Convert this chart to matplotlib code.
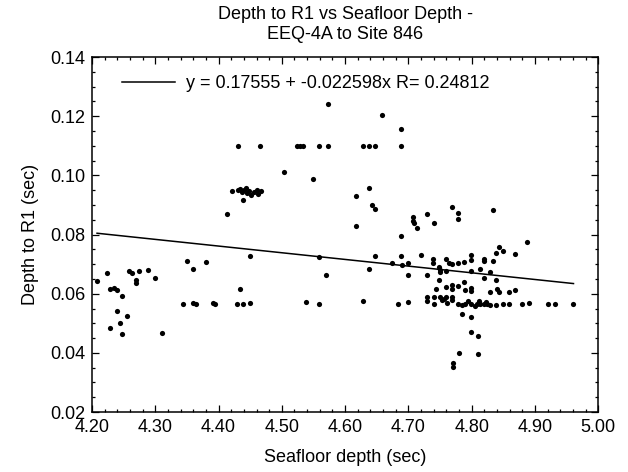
import matplotlib
matplotlib.use("Agg")
import matplotlib.pyplot as plt
import numpy as np
from matplotlib.ticker import MultipleLocator

plt.rcParams['font.family'] = ['Liberation Sans', 'DejaVu Sans']

# seafloor depth (sec) and depth to R1 (sec)
seafloor = [
    4.208, 4.224, 4.259, 4.264, 4.275, 4.289, 4.270, 4.270, 4.300, 4.229,
    4.234, 4.239, 4.248, 4.239, 4.255, 4.244, 4.229, 4.248, 4.310, 4.350,
    4.360, 4.380, 4.344, 4.359, 4.364, 4.391, 4.394, 4.429, 4.439, 4.449,
    4.434, 4.449, 4.413, 4.439, 4.431, 4.466,
    4.421, 4.430, 4.437, 4.441, 4.445, 4.448, 4.452, 4.456, 4.460, 4.463,
    4.467, 4.434, 4.444,
    4.573, 4.658, 4.689, 4.524, 4.529, 4.534, 4.558, 4.573, 4.628, 4.638,
    4.647, 4.689, 4.503, 4.549, 4.638, 4.618,
    4.642, 4.647, 4.618, 4.708, 4.708, 4.709, 4.713, 4.729, 4.740, 4.689,
    4.559, 4.570, 4.648, 4.638, 4.674, 4.689, 4.690, 4.699, 4.699, 4.720,
    4.729, 4.739, 4.739, 4.749, 4.750, 4.749, 4.765, 4.744, 4.729, 4.740,
    4.729, 4.740, 4.753, 4.757, 4.539, 4.559, 4.628, 4.683, 4.699,
    4.769, 4.779, 4.779, 4.833, 4.888, 4.844, 4.849, 4.839, 4.869, 4.760,
    4.769, 4.779, 4.788, 4.799, 4.799, 4.819, 4.819, 4.833, 4.750, 4.760,
    4.799, 4.814, 4.829, 4.819, 4.839, 4.788, 4.779, 4.769, 4.769, 4.760,
    4.799, 4.799, 4.790, 4.829, 4.840, 4.844, 4.859, 4.869,
    4.750, 4.760, 4.769, 4.769, 4.761,
    4.779, 4.784, 4.790, 4.799, 4.808, 4.814, 4.819, 4.824, 4.829, 4.839,
    4.849, 4.859, 4.879, 4.890, 4.920, 4.931, 4.961,
    4.812, 4.822, 4.795, 4.805,
    4.784, 4.799, 4.799, 4.810, 4.780, 4.810, 4.770, 4.770,
]
depth_r1 = [
    0.0644, 0.0671, 0.0677, 0.0669, 0.0676, 0.0680, 0.0646, 0.0637, 0.0654, 0.0615,
    0.0620, 0.0612, 0.0592, 0.0542, 0.0524, 0.0502, 0.0484, 0.0464, 0.0468, 0.0711,
    0.0683, 0.0706, 0.0567, 0.0570, 0.0567, 0.0569, 0.0567, 0.0567, 0.0567, 0.0570,
    0.0615, 0.0727, 0.0869, 0.0917, 0.1100, 0.1100,
    0.0947, 0.0950, 0.0945, 0.0952, 0.0940, 0.0948, 0.0935, 0.0944, 0.0950, 0.0938,
    0.0946, 0.0955, 0.0958,
    0.1241, 0.1203, 0.1157, 0.1100, 0.1100, 0.1100, 0.1100, 0.1100, 0.1100, 0.1100,
    0.1100, 0.1100, 0.1013, 0.0988, 0.0957, 0.0931,
    0.0900, 0.0885, 0.0829, 0.0860, 0.0847, 0.0838, 0.0823, 0.0869, 0.0840, 0.0796,
    0.0725, 0.0663, 0.0727, 0.0683, 0.0705, 0.0727, 0.0697, 0.0703, 0.0665, 0.0731,
    0.0663, 0.0717, 0.0703, 0.0689, 0.0674, 0.0646, 0.0705, 0.0615, 0.0590, 0.0588,
    0.0575, 0.0564, 0.0580, 0.0582, 0.0571, 0.0565, 0.0575, 0.0567, 0.0573,
    0.0894, 0.0874, 0.0853, 0.0883, 0.0776, 0.0759, 0.0745, 0.0738, 0.0734, 0.0719,
    0.0700, 0.0705, 0.0708, 0.0731, 0.0714, 0.0719, 0.0711, 0.0711, 0.0680, 0.0678,
    0.0678, 0.0683, 0.0672, 0.0652, 0.0648, 0.0640, 0.0627, 0.0629, 0.0616, 0.0623,
    0.0621, 0.0610, 0.0612, 0.0605, 0.0615, 0.0607, 0.0607, 0.0612,
    0.0590, 0.0590, 0.0590, 0.0578, 0.0568,
    0.0567, 0.0562, 0.0567, 0.0567, 0.0567, 0.0567, 0.0567, 0.0565, 0.0562, 0.0562,
    0.0567, 0.0567, 0.0567, 0.0569, 0.0567, 0.0567, 0.0567,
    0.0575, 0.0572, 0.0574, 0.0560,
    0.0531, 0.0522, 0.0471, 0.0458, 0.0398, 0.0395, 0.0367, 0.0353,
]

# regression shown in the legend
fit_a = 0.17555
fit_b = -0.022598
fit_r = 0.24812

fig = plt.figure(figsize=(6.28, 4.72), dpi=100)
ax = fig.add_axes([0.1465, 0.127, 0.806, 0.752])

ax.scatter(seafloor, depth_r1, s=14, color='black', linewidths=0, zorder=3)

xfit = np.array([min(seafloor), max(seafloor)])
ax.plot(xfit, fit_a + fit_b * xfit, color='black', linewidth=1.1,
        label=f"y = {fit_a} + {fit_b}x R= {fit_r}")

ax.set_xlim(4.20, 5.00)
ax.set_ylim(0.02, 0.14)
ax.xaxis.set_major_locator(MultipleLocator(0.1))
ax.xaxis.set_minor_locator(MultipleLocator(0.02))
ax.yaxis.set_major_locator(MultipleLocator(0.02))
ax.yaxis.set_minor_locator(MultipleLocator(0.005))
ax.xaxis.set_major_formatter(plt.FormatStrFormatter('%.2f'))
ax.yaxis.set_major_formatter(plt.FormatStrFormatter('%.2f'))
ax.tick_params(which='both', direction='in', top=True, right=True, labelsize=13)
ax.tick_params(which='major', length=5, width=0.9, pad=5)
ax.tick_params(which='minor', length=2.5, width=0.9)
for s in ax.spines.values():
    s.set_linewidth(1.1)

ax.set_xlabel("Seafloor depth (sec)", fontsize=13, labelpad=9)
ax.set_ylabel("Depth to R1 (sec)", fontsize=13, labelpad=8)
ax.set_title("Depth to R1 vs Seafloor Depth -\nEEQ-4A to Site 846", fontsize=13,
             linespacing=1.2, pad=13)

ax.legend(loc='upper left', frameon=False, fontsize=13, handlelength=2.9,
          handletextpad=0.6, borderaxespad=0.3, bbox_to_anchor=(0.035, 0.985))

fig.savefig("out.png", dpi=100)
